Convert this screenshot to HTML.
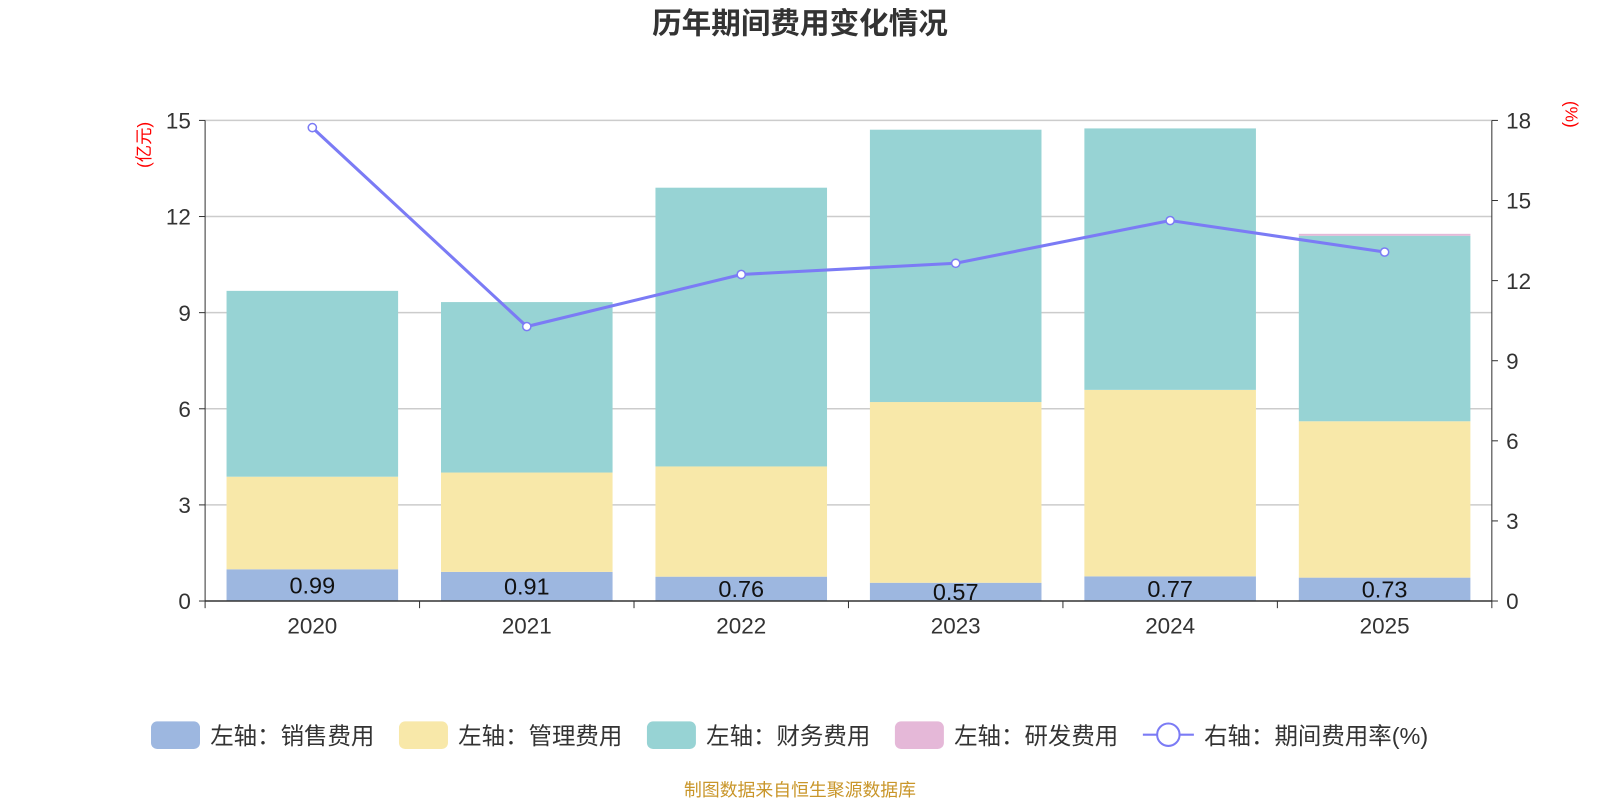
<!DOCTYPE html>
<html><head><meta charset="utf-8"><style>
body{margin:0;background:#fff;font-family:"Liberation Sans","Noto Sans CJK SC",sans-serif;overflow:hidden}
</style></head><body>
<svg id="c" width="1600" height="800" viewBox="0 0 1568 784" xmlns="http://www.w3.org/2000/svg" font-family="Liberation Sans, Noto Sans CJK SC, sans-serif"></svg>
<script>
const categories=["2020","2021","2022","2023","2024","2025"];
const sales=[0.99,0.91,0.76,0.57,0.77,0.73];
const mgmt=[2.89,3.10,3.44,5.64,5.82,4.88];
const finance=[5.80,5.32,8.70,8.50,8.16,5.79];
const rd=[0,0,0,0,0,0.06];
const rate=[17.73,10.28,12.23,12.65,14.25,13.07];
const leftTicks=[0,3,6,9,12,15];
const rightTicks=[0,3,6,9,12,15,18];
const svg=document.getElementById('c');
const NS="http://www.w3.org/2000/svg";
const X0=201,X1=1462,Y0=589,Y1=118;
const band=(X1-X0)/categories.length;
const yL=v=>Y0-(v/15)*(Y0-Y1);
const yR=v=>Y0-(v/18)*(Y0-Y1);
const xc=i=>X0+band*(i+0.5);
function el(t,a,txt){const e=document.createElementNS(NS,t);for(const k in a)e.setAttribute(k,a[k]);if(txt!==undefined)e.textContent=txt;svg.appendChild(e);return e;}
let e;
e=el('text',{x:784,y:33,'text-anchor':'middle','font-size':29,'font-weight':'bold',fill:'#333'},'历年期间费用变化情况');


leftTicks.forEach(t=>{
 if(t>0){e=el('line',{x1:X0,x2:X1,y1:yL(t),y2:yL(t),stroke:'#ccc','stroke-width':1.5});
 
 }
 e=el('text',{x:187,y:yL(t)+8,'text-anchor':'end','font-size':22,fill:'#333'},t);
 
 
 el('line',{x1:X0-6,x2:X0,y1:yL(t),y2:yL(t),stroke:'#333'});
});
rightTicks.forEach(t=>{
 e=el('text',{x:1476,y:yR(t)+8,'font-size':22,fill:'#333'},t);
 
 
 el('line',{x1:X1,x2:X1+6,y1:yR(t),y2:yR(t),stroke:'#333'});
});
el('line',{x1:X0,x2:X0,y1:Y1,y2:Y0,stroke:'#333'});
el('line',{x1:X1,x2:X1,y1:Y1,y2:Y0,stroke:'#333'});
e=el('text',{x:0,y:0,'font-size':17,fill:'red','text-anchor':'middle',transform:'translate(147,142) rotate(-90)'},'(亿元)');


e=el('text',{x:0,y:0,'font-size':17,fill:'red','text-anchor':'middle',transform:'translate(1534,112) rotate(90)'},'(%)');


const series=[[sales,'#9db7e0','sales'],[mgmt,'#f8e8a9','mgmt'],[finance,'#97d3d4','finance'],[rd,'#e5b8d8','rd']];
const bw=band*0.8;
categories.forEach((c,i)=>{
 let acc=0;
 series.forEach(([arr,col,nm])=>{
  const v=arr[i];if(v<=0)return;
  e=el('rect',{x:xc(i)-bw/2,y:yL(acc+v),width:bw,height:yL(acc)-yL(acc+v),fill:col});
  
  
  acc+=v;
 });
 e=el('text',{x:xc(i),y:yL(sales[i]/2)+8,'text-anchor':'middle','font-size':23,fill:'#111'},sales[i].toFixed(2));
 
 
 e=el('text',{x:xc(i),y:621,'text-anchor':'middle','font-size':22,fill:'#333'},c);
 
 
});
for(let i=0;i<=categories.length;i++)el('line',{x1:X0+band*i,x2:X0+band*i,y1:Y0,y2:Y0+7,stroke:'#333'});
el('line',{x1:X0,x2:X1,y1:Y0,y2:Y0,stroke:'#333','stroke-width':1.5});
e=el('polyline',{points:rate.map((v,i)=>xc(i)+','+yR(v)).join(' '),fill:'none',stroke:'#7b7bf5','stroke-width':3});


rate.forEach((v,i)=>{e=el('circle',{cx:xc(i),cy:yR(v),r:4,fill:'#fff',stroke:'#7b7bf5','stroke-width':1.5});
 
 });
const leg=[['左轴：销售费用','#9db7e0',148],['左轴：管理费用','#f8e8a9',391],['左轴：财务费用','#97d3d4',634],['左轴：研发费用','#e5b8d8',877]];
leg.forEach(([t,col,x])=>{
 e=el('rect',{x:x,y:707,width:48,height:27,rx:6,fill:col});
 
 
 e=el('text',{x:x+58,y:729,'font-size':23,fill:'#333'},t);
 
 
});
el('line',{x1:1120,x2:1170,y1:720,y2:720,stroke:'#7b7bf5','stroke-width':2});
el('circle',{cx:1145,cy:720,r:11,fill:'#fff',stroke:'#7b7bf5','stroke-width':2});
e=el('text',{x:1180,y:729,'font-size':23,fill:'#333'},'右轴：期间费用率(%)');


e=el('text',{x:784,y:780,'text-anchor':'middle','font-size':17.5,fill:'#c9962a'},'制图数据来自恒生聚源数据库');


</script>
</body></html>
